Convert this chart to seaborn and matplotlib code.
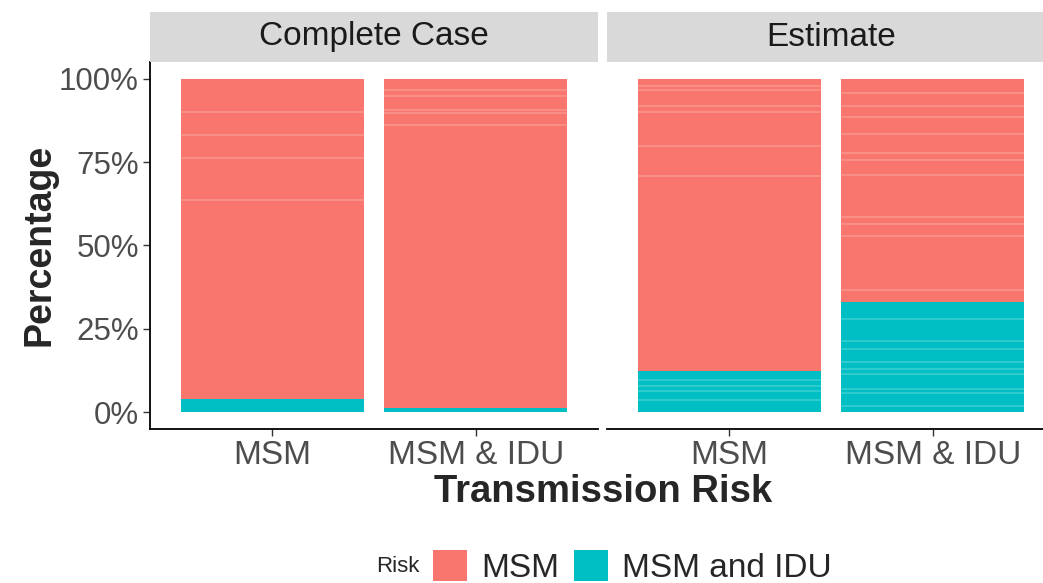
import numpy as np
import pandas as pd
import matplotlib
matplotlib.use("Agg")
import matplotlib.pyplot as plt
import seaborn as sns
from matplotlib.patches import Patch

# data (percent of records)
facets = ["Complete Case", "Estimate"]
groups = ["MSM", "MSM & IDU"]
complete_case_idu = [4.0, 1.4]
estimate_idu = [12.4, 33.1]

# faint record boundaries visible inside the stacked bars
cc_msm_bounds = [90.0, 83.0, 76.2, 63.7]
cc_idu_bounds = [96.5, 94.7, 90.5, 89.7, 86.0]
est_msm_bounds = [97.9, 96.7, 91.9, 90.0, 79.9, 70.7, 9.6, 7.8, 6.5, 3.6]
est_idu_bounds = [95.7, 91.7, 88.5, 83.5, 77.7, 75.5, 71.2, 58.6, 56.5, 52.9,
                  36.8, 27.9, 21.4, 19.1, 15.1, 13.1, 11.4, 7.1, 5.8, 1.8]

legend_labels = ["MSM", "MSM and IDU"]
colors = ["#F8766D", "#00BFC4"]

sns.set_theme(style="white")
plt.rcParams['font.family'] = ['Liberation Sans', 'DejaVu Sans']

W, H = 1043, 583
fig = plt.figure(figsize=(W / 100, H / 100), dpi=100)


def frac(x0, y0, x1, y1):
    return [x0 / W, 1 - y1 / H, (x1 - x0) / W, (y1 - y0) / H]


ax1 = fig.add_axes(frac(150, 62, 598, 429))
ax2 = fig.add_axes(frac(607, 62, 1055, 429))
strips = [fig.add_axes(frac(150, 12, 598, 62)), fig.add_axes(frac(607, 12, 1055, 62))]

panels = [
    (ax1, complete_case_idu, [cc_msm_bounds, cc_idu_bounds]),
    (ax2, estimate_idu, [est_msm_bounds, est_idu_bounds]),
]

for i, (ax, idu, bounds) in enumerate(panels):
    df = pd.DataFrame({"group": groups, "total": [100, 100], "idu": idu})
    sns.barplot(data=df, x="group", y="total", color=colors[0], saturation=1,
                width=0.9, linewidth=0, ax=ax)
    sns.barplot(data=df, x="group", y="idu", color=colors[1], saturation=1,
                width=0.9, linewidth=0, ax=ax)
    for p, bl in zip(ax.patches[:2], bounds):
        ax.hlines(bl, p.get_x(), p.get_x() + p.get_width(), color="white",
                  alpha=0.2, linewidth=1.3)
    ax.set_xlim(-0.6, 1.6)
    ax.set_ylim(-5, 105)
    ax.set_yticks([0, 25, 50, 75, 100])
    ax.set_xlabel("")
    ax.set_ylabel("")
    for s in ["top", "right"]:
        ax.spines[s].set_visible(False)
    ax.spines["bottom"].set_color("black")
    ax.spines["bottom"].set_linewidth(1.3)
    ax.tick_params(axis="x", bottom=True, length=5, width=1, color="#333333",
                   labelsize=24, labelcolor="#4D4D4D", pad=3)
    if i == 0:
        ax.spines["left"].set_color("black")
        ax.spines["left"].set_linewidth(1.3)
        ax.set_yticklabels(["0%", "25%", "50%", "75%", "100%"])
        ax.tick_params(axis="y", left=True, length=5, width=1, color="#333333",
                       labelsize=22.5, labelcolor="#4D4D4D", pad=3)
    else:
        ax.spines["left"].set_visible(False)
        ax.tick_params(axis="y", left=False, labelleft=False)

    st = strips[i]
    st.set_facecolor("#D9D9D9")
    st.set_xticks([])
    st.set_yticks([])
    for s in st.spines.values():
        s.set_visible(False)
    st.text(0.5, 0.5, facets[i], ha="center", va="center", fontsize=24,
            color="#1A1A1A", transform=st.transAxes)

fig.text(40 / W, 1 - 245 / H, "Percentage", rotation=90, ha="center", va="center",
         fontsize=27, fontweight="bold")
fig.text(603 / W, 1 - 492 / H, "Transmission Risk", ha="center", va="center",
         fontsize=27.5, fontweight="bold")

fig.text(398 / W, 1 - 567 / H, "Risk", ha="center", va="center", fontsize=16)
handles = [Patch(facecolor=c, edgecolor="none", label=l) for c, l in zip(colors, legend_labels)]
fig.legend(handles=handles, loc="center left", bbox_to_anchor=(433 / W, 1 - 567 / H),
           ncol=2, frameon=False, fontsize=24, handlelength=1.02, handleheight=1.02,
           handletextpad=0.42, columnspacing=0.45, borderpad=0, borderaxespad=0)

fig.savefig("out.png", dpi=100)
